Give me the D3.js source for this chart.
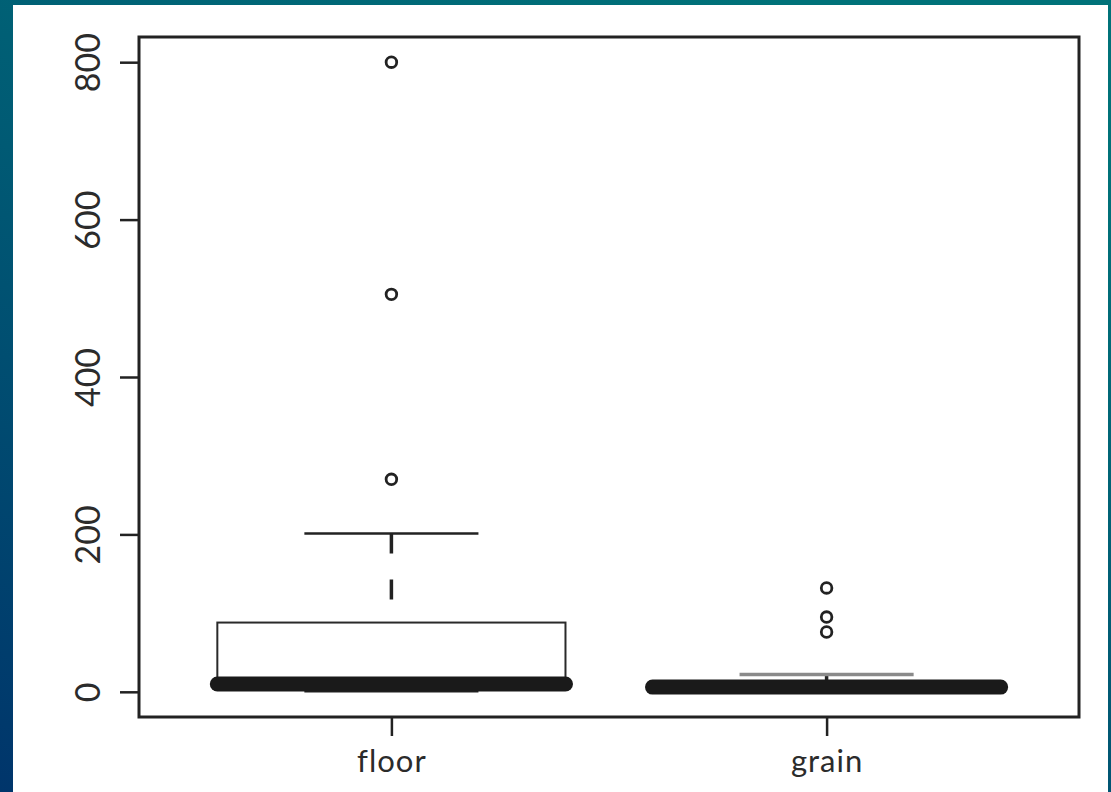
<!DOCTYPE html>
<html>
<head>
<meta charset="utf-8">
<script src="https://cdn.jsdelivr.net/npm/d3@7"></script>
<style>
  html, body { margin: 0; padding: 0; }
  body { width: 1111px; height: 792px; overflow: hidden; }
  svg { display: block; }
</style>
</head>
<body>
<svg id="chart" width="1111" height="792"></svg>
<script>
// Five-number summaries per group, plus points beyond the whiskers
const categories = ["floor", "grain"];
const lowerWhisker = [1, 0];
const q1 = [4, 2];
const medians = [10, 6];
const q3 = [88, 10];
const upperWhisker = [201, 22];
const outliers = [[270, 505, 800], [76, 95, 132]];
const yTicks = [0, 200, 400, 600, 800];

const W = 1111, H = 792;
const plot = { left: 139, right: 1079, top: 37, bottom: 717 };

const svg = d3.select("#chart");

// Slide-style backdrop: teal fading to navy, with a white card on top
const defs = svg.append("defs");
const grad = defs.append("linearGradient")
  .attr("id", "bg").attr("x1", "0.7").attr("y1", "0").attr("x2", "0").attr("y2", "1");
grad.append("stop").attr("offset", "0").attr("stop-color", "#007279");
grad.append("stop").attr("offset", "0.45").attr("stop-color", "#005a74");
grad.append("stop").attr("offset", "1").attr("stop-color", "#00356b");
svg.append("rect").attr("width", W).attr("height", H).attr("fill", "url(#bg)");
svg.append("rect").attr("x", 13).attr("y", 5).attr("width", 1095).attr("height", H - 5).attr("fill", "#ffffff");

// Scales: range padded by 4% on both axes
const allVals = lowerWhisker.concat(upperWhisker, outliers.flat());
const [vmin, vmax] = d3.extent(allVals);
const pad = (vmax - vmin) * 0.04;
const y = d3.scaleLinear().domain([vmin - pad, vmax + pad]).range([plot.bottom, plot.top]);
const x = d3.scaleLinear().domain([0.5 - 0.08, categories.length + 0.5 + 0.08]).range([plot.left, plot.right]);

const boxHalf = 0.4, stapleHalf = 0.2;
const ink = "#222222";

const groups = svg.append("g").selectAll("g.box")
  .data(categories.map((c, i) => ({
    name: c, pos: i + 1, lo: lowerWhisker[i], q1: q1[i], med: medians[i],
    q3: q3[i], hi: upperWhisker[i], out: outliers[i], idx: i
  })))
  .join("g").attr("class", "box");

// Whiskers (dashed)
groups.append("line")
  .attr("x1", d => x(d.pos)).attr("x2", d => x(d.pos))
  .attr("y1", d => y(d.hi)).attr("y2", d => y(d.q3))
  .attr("stroke", ink).attr("stroke-width", 3.5).attr("stroke-dasharray", "20,26");
groups.append("line")
  .attr("x1", d => x(d.pos)).attr("x2", d => x(d.pos))
  .attr("y1", d => y(d.q1)).attr("y2", d => y(d.lo))
  .attr("stroke", ink).attr("stroke-width", 3.5).attr("stroke-dasharray", "20,26");

// Staples
groups.append("line")
  .attr("x1", d => x(d.pos - stapleHalf)).attr("x2", d => x(d.pos + stapleHalf))
  .attr("y1", d => y(d.hi)).attr("y2", d => y(d.hi))
  .attr("stroke", d => d.idx === 0 ? ink : "#8a8a8a").attr("stroke-width", d => d.idx === 0 ? 2.5 : 3.5);
groups.append("line")
  .attr("x1", d => x(d.pos - stapleHalf)).attr("x2", d => x(d.pos + stapleHalf))
  .attr("y1", d => y(d.lo)).attr("y2", d => y(d.lo))
  .attr("stroke", ink).attr("stroke-width", 3);

// Boxes
groups.append("rect")
  .attr("x", d => x(d.pos - boxHalf))
  .attr("width", d => x(d.pos + boxHalf) - x(d.pos - boxHalf))
  .attr("y", d => y(d.q3))
  .attr("height", d => y(d.q1) - y(d.q3))
  .attr("fill", "#ffffff").attr("stroke", "#2a2a2a").attr("stroke-width", 2);

// Heavy median bars
groups.append("line")
  .attr("x1", d => x(d.pos - boxHalf)).attr("x2", d => x(d.pos + boxHalf))
  .attr("y1", d => y(d.med)).attr("y2", d => y(d.med))
  .attr("stroke", "#1a1a1a").attr("stroke-width", 15).attr("stroke-linecap", "round");

// Outlying points
groups.selectAll("circle")
  .data(d => d.out.map(v => ({ pos: d.pos, v })))
  .join("circle")
  .attr("cx", d => x(d.pos)).attr("cy", d => y(d.v)).attr("r", 5.3)
  .attr("fill", "none").attr("stroke", ink).attr("stroke-width", 2.8);

// Axes
const yAxis = svg.append("g").attr("transform", `translate(${plot.left},0)`)
  .call(d3.axisLeft(y).tickValues(yTicks).tickSize(19).tickFormat(d3.format("d")));
yAxis.select(".domain").remove();
yAxis.selectAll(".tick line").attr("stroke", ink).attr("stroke-width", 2.5);
yAxis.selectAll(".tick text")
  .attr("x", null).attr("dy", null)
  .attr("transform", "translate(-39,0) rotate(-90)")
  .attr("text-anchor", "middle")
  .attr("fill", "#2b2b2b")
  .style("font-family", "Lato, 'Open Sans', sans-serif")
  .style("font-size", "34px");

const xAxis = svg.append("g").attr("transform", `translate(0,${plot.bottom})`)
  .call(d3.axisBottom(x).tickValues(categories.map((c, i) => i + 1)).tickSize(19)
    .tickFormat((d) => categories[d - 1]));
xAxis.select(".domain").remove();
xAxis.selectAll(".tick line").attr("stroke", ink).attr("stroke-width", 2.5);
xAxis.selectAll(".tick text")
  .attr("y", 55).attr("dy", null)
  .attr("fill", "#2b2b2b")
  .style("font-family", "Lato, 'Open Sans', sans-serif")
  .style("font-size", "31px")
  .style("letter-spacing", "1px");

// Plot frame
svg.append("rect")
  .attr("x", plot.left).attr("y", plot.top)
  .attr("width", plot.right - plot.left).attr("height", plot.bottom - plot.top)
  .attr("fill", "none").attr("stroke", ink).attr("stroke-width", 3);
</script>
</body>
</html>
